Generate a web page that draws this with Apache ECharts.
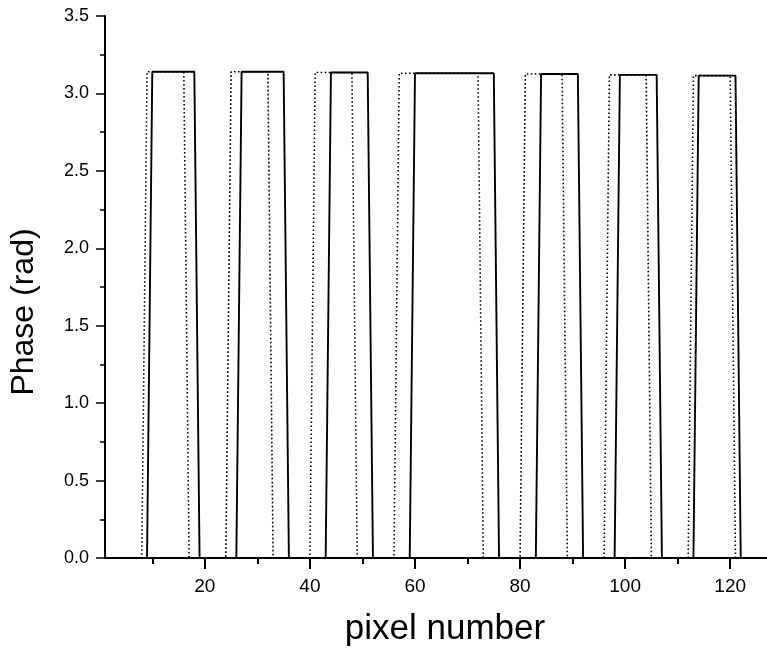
<!DOCTYPE html>
<html>
<head>
<meta charset="utf-8">
<style>
  html, body { margin: 0; padding: 0; background: #fff; }
  #chart { width: 767px; height: 649px; }
</style>
<script src="https://cdn.jsdelivr.net/npm/echarts@6/dist/echarts.min.js"></script>
</head>
<body>
<div id="chart"></div>
<script>
// Pixel range of the phase profile
const pixelFirst = 1;
const pixelLast = 128;

// Solid profile: last pixel at 0 before each step up, last pixel at the top level before each step down
const solidRise = [9, 26, 43, 59, 83, 98, 113];
const solidFall = [18, 35, 51, 75, 91, 106, 121];

// Dotted profile
const dottedRise = [8, 24, 40, 56, 80, 96, 112];
const dottedFall = [16, 32, 48, 72, 88, 104, 120];

// Phase level of each plateau (rad)
const plateauLevel = [3.14, 3.14, 3.135, 3.13, 3.125, 3.12, 3.115];

// Axis tick labels
const xLabelValues = [20, 40, 60, 80, 100, 120];
const xMinorValues = [10, 30, 50, 70, 90, 110];

// Turn step positions into the sampled phase polyline
function profile(rise, fall) {
  const pts = [[pixelFirst, 0]];
  for (let i = 0; i < rise.length; i++) {
    pts.push([rise[i], 0]);
    pts.push([rise[i] + 1, plateauLevel[i]]);
    pts.push([fall[i], plateauLevel[i]]);
    pts.push([fall[i] + 1, 0]);
  }
  pts.push([pixelLast, 0]);
  return pts;
}

const chart = echarts.init(document.getElementById('chart'), null, { renderer: 'canvas' });
const FONT = 'Liberation Sans, Arial, Helvetica, sans-serif';

chart.setOption({
  animation: false,
  backgroundColor: '#ffffff',
  grid: { left: 105, right: -2, top: 16, bottom: 91, containLabel: false },
  xAxis: [
    {
      type: 'value', min: 1, max: 127,
      axisLine: { show: true, lineStyle: { color: '#000', width: 2 } },
      axisTick: { show: true, customValues: xLabelValues, length: 11, inside: false,
                  lineStyle: { color: '#000', width: 2 } },
      axisLabel: { show: true, customValues: xLabelValues, margin: 19,
                   color: '#000', fontSize: 19, fontFamily: FONT },
      splitLine: { show: false }
    },
    {
      type: 'value', min: 1, max: 127, position: 'bottom',
      axisLine: { show: false },
      axisTick: { show: true, customValues: xMinorValues, length: 6, inside: false,
                  lineStyle: { color: '#000', width: 2 } },
      axisLabel: { show: false },
      splitLine: { show: false }
    }
  ],
  yAxis: {
    type: 'value', min: 0, max: 3.5, interval: 0.5,
    axisLine: { show: true, lineStyle: { color: '#000', width: 2 } },
    axisTick: { show: true, length: 9, inside: false, lineStyle: { color: '#000', width: 1.5 } },
    minorTick: { show: true, splitNumber: 2, length: 5, lineStyle: { color: '#000', width: 1.5 } },
    axisLabel: { margin: 16, color: '#000', fontSize: 18, fontFamily: FONT,
                 formatter: v => v.toFixed(1) },
    splitLine: { show: false }
  },
  graphic: [
    {
      type: 'text', x: 24, y: 312, rotation: Math.PI / 2,
      style: { text: 'Phase (rad)', fill: '#000', font: '32px ' + FONT,
               textAlign: 'center', textVerticalAlign: 'middle' }
    },
    {
      type: 'text', x: 445, y: 629,
      style: { text: 'pixel number', fill: '#000', font: '35px ' + FONT,
               textAlign: 'center', textVerticalAlign: 'middle' }
    }
  ],
  series: [
    {
      name: 'dotted', type: 'line', xAxisIndex: 0, data: profile(dottedRise, dottedFall),
      showSymbol: false, z: 2,
      lineStyle: { color: '#000', width: 1.6, type: [1.6, 2.4] }
    },
    {
      name: 'solid', type: 'line', xAxisIndex: 0, data: profile(solidRise, solidFall),
      showSymbol: false, z: 3,
      lineStyle: { color: '#000', width: 1.9, type: 'solid' }
    }
  ]
});
</script>
</body>
</html>
